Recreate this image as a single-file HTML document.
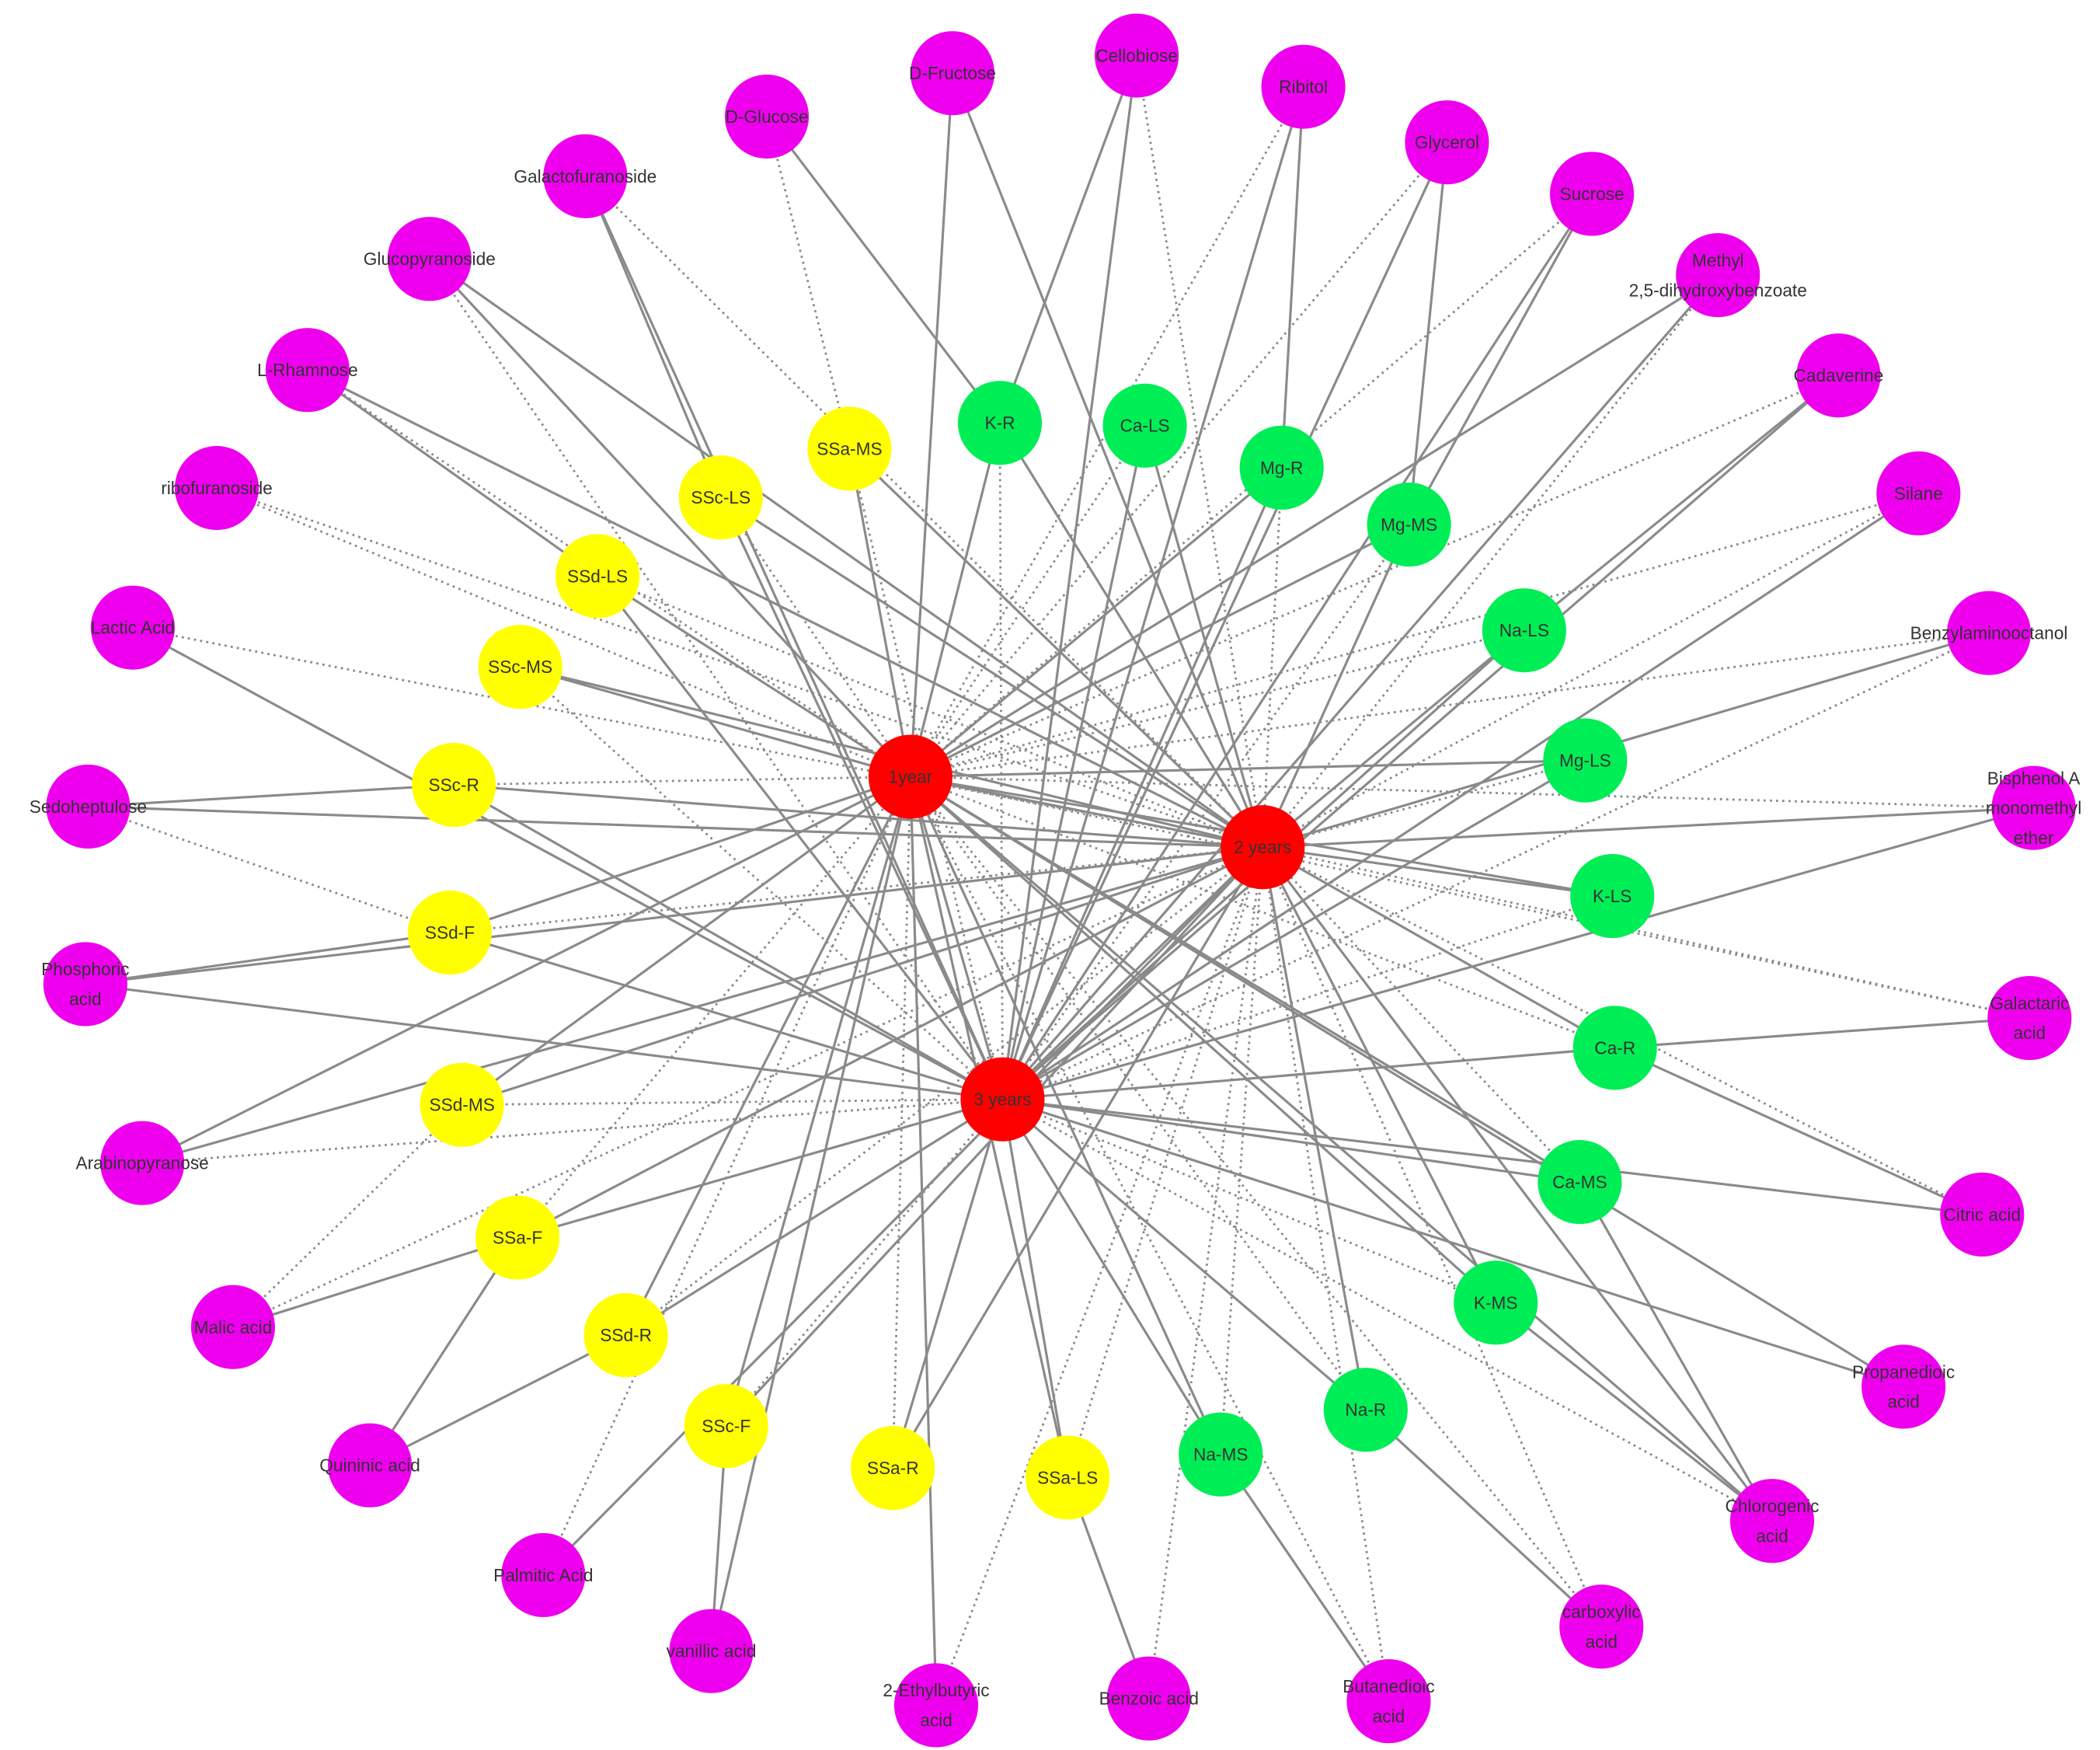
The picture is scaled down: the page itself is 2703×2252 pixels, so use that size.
<!DOCTYPE html>
<html><head><meta charset="utf-8"><style>
html,body{margin:0;padding:0;background:#fff;width:2703px;height:2252px;overflow:hidden}
svg{display:block}
text{font-family:"Liberation Sans",sans-serif;font-size:13px;fill:#333;text-anchor:middle;dominant-baseline:central}
</style></head><body>
<svg id="s" width="2703" height="2252" viewBox="0 0 1550 1291" preserveAspectRatio="none" xmlns="http://www.w3.org/2000/svg">
<g id="e" stroke="#8a8a8a" fill="none"></g><g id="n"></g>
</svg>
<script>
var N={
'1year':[672,573,'r'],'2 years':[932,625,'r'],'3 years':[740,811,'r'],
'SSa-MS':[627,331,'y'],'SSc-LS':[532,367,'y'],'SSd-LS':[441,425,'y'],'SSc-MS':[384,492,'y'],'SSc-R':[335,579,'y'],'SSd-F':[332,688,'y'],'SSd-MS':[341,815,'y'],'SSa-F':[382,913,'y'],'SSd-R':[462,985,'y'],'SSc-F':[536,1052,'y'],'SSa-R':[659,1083,'y'],'SSa-LS':[788,1090,'y'],
'K-R':[738,312,'g'],'Ca-LS':[845,314,'g'],'Mg-R':[946,345,'g'],'Mg-MS':[1040,387,'g'],'Na-LS':[1125,465,'g'],'Mg-LS':[1170,561,'g'],'K-LS':[1190,661,'g'],'Ca-R':[1192,773,'g'],'Ca-MS':[1166,872,'g'],'K-MS':[1104,961,'g'],'Na-R':[1008,1040,'g'],'Na-MS':[901,1073,'g']};
var M=[
['D-Fructose',703,54,'D-Fructose',['1year','2 years'],[]],
['Cellobiose',839,41,'Cellobiose',['K-R','3 years'],['2 years']],
['Ribitol',962,64,'Ribitol',['Mg-R','3 years'],['1year']],
['Glycerol',1068,105,'Glycerol',['3 years','Mg-MS'],['1year']],
['Sucrose',1175,143,'Sucrose',['Mg-MS','3 years'],['1year']],
['Methyl',1268,203,'Methyl|2,5-dihydroxybenzoate',['1year','3 years'],['2 years']],
['Cadaverine',1357,277,'Cadaverine',['Na-LS','3 years'],['1year']],
['Silane',1416,364,'Silane',['3 years'],['1year','2 years']],
['Benzyl',1468,467,'Benzylaminooctanol',['2 years'],['1year','3 years']],
['Bisphenol',1501,596,'Bisphenol A|monomethyl|ether',['2 years','3 years'],['1year']],
['Galactaric',1498,751,'Galactaric|acid',['Ca-R'],['1year','2 years']],
['Citric',1463,896,'Citric acid',['3 years','Ca-R'],['2 years']],
['Propanedioic',1405,1023,'Propanedioic|acid',['1year','3 years'],[]],
['Chlorogenic',1308,1122,'Chlorogenic|acid',['1year','2 years','K-MS','Ca-MS'],['3 years']],
['carboxylic',1182,1200,'carboxylic|acid',['Na-R'],['2 years','1year']],
['Butanedioic',1025,1255,'Butanedioic|acid',['Na-MS'],['2 years','1year']],
['Benzoic',848,1253,'Benzoic acid',['SSa-LS'],['2 years']],
['Ethyl',691,1258,'2-Ethylbutyric|acid',['1year'],['2 years']],
['vanillic',525,1218,'vanillic acid',['SSc-F','1year'],[]],
['Palmitic',401,1162,'Palmitic Acid',['2 years'],['1year']],
['Quininic',273,1081,'Quininic acid',['SSa-F','SSd-R'],[]],
['Malic',172,979,'Malic acid',['SSa-F'],['SSd-MS','2 years']],
['Arabino',105,858,'Arabinopyranose',['1year','2 years'],['3 years']],
['Phosphoric',63,726,'Phosphoric|acid',['SSd-F','2 years','3 years'],[]],
['Sedo',65,595,'Sedoheptulose',['SSc-R','2 years'],['SSd-F']],
['Lactic',98,463,'Lactic Acid',['3 years'],['2 years']],
['ribo',160,360,'ribofuranoside',[],['1year','2 years']],
['Rham',227,273,'L-Rhamnose',['2 years','SSd-LS'],['1year']],
['Glucopy',317,191,'Glucopyranoside',['2 years','1year'],['3 years']],
['Galacto',432,130,'Galactofuranoside',['SSc-LS','3 years'],['2 years']],
['Glucose',566,86,'D-Glucose',['K-R'],['SSa-MS']]];
var e=document.getElementById('e'),n=document.getElementById('n'),ns='http://www.w3.org/2000/svg';
function L(a,b,d){var l=document.createElementNS(ns,'line');l.setAttribute('x1',a[0]);l.setAttribute('y1',a[1]);l.setAttribute('x2',b[0]);l.setAttribute('y2',b[1]);l.setAttribute('stroke-width',d?1.6:1.8);if(d)l.setAttribute('stroke-dasharray','1.6 3');e.appendChild(l);}
var H=['1year','2 years','3 years'],i=0;
for(var k in N){if(N[k][2]=='r')continue;var p=i%3;
L(N[k],N[H[p]]);L(N[k],N[H[(p+1)%3]]);L(N[k],N[H[(p+2)%3]],1);i++;}
L(N['1year'],N['2 years']);L(N['1year'],N['3 years']);L(N['2 years'],N['3 years']);
M.forEach(function(m){m[4].forEach(function(t){L([m[1],m[2]],N[t]);});m[5].forEach(function(t){L([m[1],m[2]],N[t],1);});});
var C={r:'#ff0000',y:'#ffff00',g:'#00ee55',m:'#ee00ee'};
function node(x,y,c,lab){var ci=document.createElementNS(ns,'circle');ci.setAttribute('cx',x);ci.setAttribute('cy',y);ci.setAttribute('r',31);ci.setAttribute('fill',C[c]);n.appendChild(ci);
var ls=lab.split('|');ls.forEach(function(s,j){var t=document.createElementNS(ns,'text');t.setAttribute('x',x);t.setAttribute('y',y+(j-(ls.length-1)/2)*22);t.textContent=s;n.appendChild(t);});}
for(var k in N)node(N[k][0],N[k][1],N[k][2],k);
M.forEach(function(m){node(m[1],m[2],'m',m[3]);});
</script>
</body></html>
